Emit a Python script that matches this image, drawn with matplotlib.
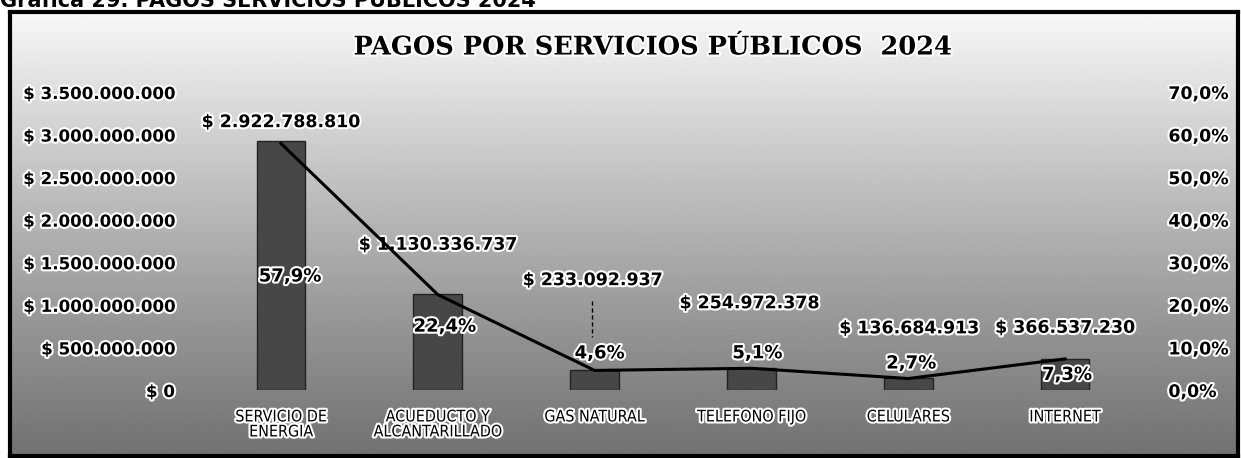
import numpy as np
import matplotlib
matplotlib.use("Agg")
import matplotlib.pyplot as plt
import matplotlib.patheffects as pe
from matplotlib.ticker import FuncFormatter

# data
categories = ["SERVICIO DE\nENERGIA", "ACUEDUCTO Y\nALCANTARILLADO", "GAS NATURAL",
              "TELEFONO FIJO", "CELULARES", "INTERNET"]
payments = [2922788810, 1130336737, 233092937, 254972378, 136684913, 366537230]
shares = [57.9, 22.4, 4.6, 5.1, 2.7, 7.3]

# label placement (pixels, relative to the mark)
money_dx = [0, 0, -2, -2, 1, 0]
money_dy = [19, 49, 90, 65, 50, 31]
pct_dx = [9, 7, 5, 6, 3, 2]
pct_dy = [-133, -32, 17, 15, 15, -16]

W, H = 1241, 458
DPI = 100
PT = 72.0 / DPI


def money(v, pos=None):
    s = "{:,.0f}".format(v).replace(",", ".")
    return "$ " + s


def pct(v, pos=None):
    return "{:.1f}%".format(v).replace(".", ",")


def main():
    fig = plt.figure(figsize=(W / DPI, H / DPI), dpi=DPI)
    fig.patch.set_facecolor("white")

    # frame with a white-to-grey gradient
    fx0, fx1, fy0, fy1 = 10, 1238, 2, 446
    bg = fig.add_axes([fx0 / W, fy0 / H, (fx1 - fx0) / W, (fy1 - fy0) / H], zorder=0)
    grad = np.linspace(0.56, 0.98, 256).reshape(-1, 1)
    grad = grad ** 1.4
    bg.imshow(grad, cmap="gray", vmin=0, vmax=1, aspect="auto", origin="lower",
              extent=[0, 1, 0, 1])
    bg.set_xticks([])
    bg.set_yticks([])
    for sp in bg.spines.values():
        sp.set_linewidth(3)
        sp.set_color("black")

    halo = [pe.withStroke(linewidth=3, foreground="white")]

    ax = fig.add_axes([202.6 / W, (H - 390) / H, 940.8 / W, 298 / H], zorder=2)
    ax.patch.set_alpha(0)
    x = np.arange(len(categories))
    ax.bar(x, payments, width=0.31, color="#474747", edgecolor="#222222", linewidth=1, zorder=2)
    ax.set_xlim(-0.5, len(categories) - 0.5)
    ax.set_ylim(0, 3.5e9)
    ax.set_yticks(np.arange(0, 3.5e9 + 1, 5e8))
    ax.yaxis.set_major_formatter(FuncFormatter(money))
    ax.set_xticks(x)
    ax.set_xticklabels(categories, fontsize=11.5, linespacing=1.0,
                       fontstretch="condensed")
    ax.tick_params(axis="y", length=0, pad=20, labelsize=12)
    ax.tick_params(axis="x", length=0, pad=14)
    for lab in ax.get_yticklabels():
        lab.set_fontweight("bold")
        lab.set_path_effects(halo)
    for lab in ax.get_xticklabels():
        lab.set_path_effects(halo)
    for sp in ax.spines.values():
        sp.set_visible(False)

    ax2 = ax.twinx()
    ax2.set_ylim(0, 70)
    ax2.set_yticks(np.arange(0, 71, 10))
    ax2.yaxis.set_major_formatter(FuncFormatter(pct))
    ax2.tick_params(axis="y", length=0, pad=18, labelsize=12.5)
    for lab in ax2.get_yticklabels():
        lab.set_fontweight("bold")
        lab.set_path_effects(halo)
    for sp in ax2.spines.values():
        sp.set_visible(False)
    ax2.plot(x, shares, color="black", linewidth=2.2, zorder=3)

    for i in range(len(categories)):
        ax.annotate(money(payments[i]), xy=(x[i], payments[i]),
                    xytext=(money_dx[i] * PT, money_dy[i] * PT), textcoords="offset points",
                    ha="center", va="center", fontsize=12.5, fontweight="bold",
                    path_effects=halo, zorder=5)
        ax2.annotate(pct(shares[i]), xy=(x[i], shares[i]),
                     xytext=(pct_dx[i] * PT, pct_dy[i] * PT), textcoords="offset points",
                     ha="center", va="center", fontsize=13, fontweight="bold",
                     path_effects=halo, zorder=5)

    # leader line under the gas label
    ax.plot([x[2] - 0.015, x[2] - 0.015], [1.05e9, 0.62e9], color="black",
            linewidth=1, linestyle=(0, (3, 2)), zorder=4)

    fig.text(654 / W, 1 - 47 / H, "PAGOS POR SERVICIOS PÚBLICOS  2024",
             ha="center", va="center", fontsize=18.5, fontweight="bold",
             family="DejaVu Serif", path_effects=halo)

    # heading of the report page, cut at the top edge
    fig.text(0, 1 - 1 / H, "Gráfica 29. PAGOS SERVICIOS PÚBLICOS 2024",
             ha="left", va="center", fontsize=15, fontweight="bold")

    fig.savefig("out.png", dpi=DPI)


if __name__ == "__main__":
    main()
